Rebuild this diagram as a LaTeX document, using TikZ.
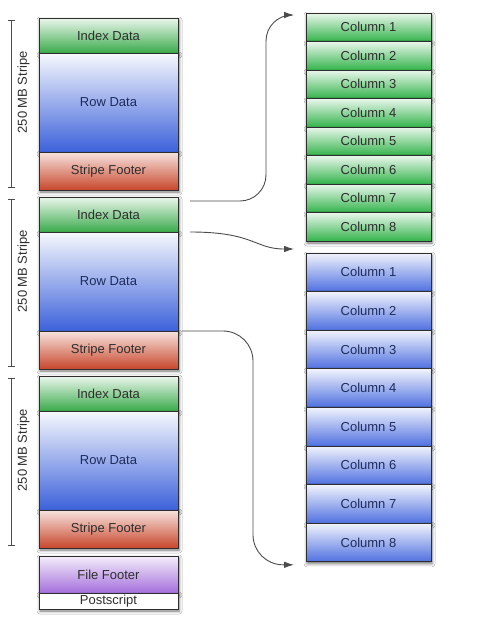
\documentclass[tikz,border=0pt]{standalone}
\usepackage{fontspec}
\setmainfont{Liberation Sans}
\usetikzlibrary{arrows.meta,shadows.blur}

\definecolor{idxgreen}{HTML}{3AAA4A}
\definecolor{rowblue}{HTML}{3C61DA}
\definecolor{footred}{HTML}{C8472C}
\definecolor{filepurple}{HTML}{A46FDB}
\definecolor{colgreen}{HTML}{33B34B}
\definecolor{colblue}{HTML}{4F70E0}
\definecolor{inkgray}{HTML}{2E2E2E}
\definecolor{inkblue}{HTML}{1E2B5C}

\tikzset{
  part/.style={draw=inkgray, line width=0.8pt, inner sep=0pt, outer sep=0pt,
    font=\fontsize{13}{15}\selectfont, text=inkgray,
    blur shadow={shadow xshift=1pt, shadow yshift=-2pt, shadow blur radius=3pt, shadow opacity=55}},
  index/.style={part, minimum width=139pt, minimum height=35pt,
    top color=idxgreen!10!white, bottom color=idxgreen},
  rowdata/.style={part, minimum width=139pt, minimum height=99pt, text=inkblue,
    top color=rowblue!4!white, bottom color=rowblue},
  footer/.style={part, minimum width=139pt, minimum height=38pt,
    top color=footred!15!white, bottom color=footred},
  filefoot/.style={part, minimum width=139pt, minimum height=37pt,
    top color=filepurple!12!white, bottom color=filepurple},
  postscript/.style={part, minimum width=139pt, minimum height=16pt, fill=white},
  gcol/.style={part, minimum width=125pt, minimum height=28.5pt,
    top color=colgreen!10!white, bottom color=colgreen},
  bcol/.style={part, minimum width=125pt, minimum height=38.6pt, text=inkblue,
    top color=colblue!8!white, bottom color=colblue},
  bracket/.style={draw=black!70, line width=0.8pt, arrows={Bar[width=7pt]-Bar[width=7pt]}},
  stripelabel/.style={rotate=90, anchor=north, inner sep=6pt,
    font=\fontsize{13}{15}\selectfont, text=inkgray},
  link/.style={draw=black!70, line width=0.9pt, -{Latex[length=10pt,width=6.5pt]}}
}

\begin{document}
\begin{tikzpicture}[x=1pt, y=-1pt]
  \useasboundingbox (0,0) rectangle (488,622);
  \fill[white] (0,0) rectangle (488,622);

  % stripes
  \foreach \s/\y in {1/18, 2/197, 3/376} {
    \node[index] (I\s) at (108.5,\y+17.5) {Index Data};
    \node[rowdata] (R\s) at (108.5,\y+84.5) {Row Data};
    \node[footer] (F\s) at (108.5,\y+153) {Stripe Footer};
    \draw[bracket] ([xshift=-28pt,yshift=-2pt]I\s.north west)
      -- node[stripelabel, pos=0.43] (L\s) {250 MB Stripe}
      ([xshift=-28pt,yshift=2pt]F\s.south west);
  }
  \node[filefoot] (FF) at (108.5,574.5) {File Footer};
  \node[postscript] (PS) at (108.5,601) {Postscript};

  % columns
  \foreach \i in {1,...,8} {
    \node[gcol] (G\i) at (368.5,13+28.5*\i-14.25) {Column \i};
    \node[bcol] (B\i) at (368.5,253+38.6*\i-19.3) {Column \i};
  }

  \draw[link, rounded corners=26pt] ([xshift=12pt,yshift=-4pt]I2.north east)
    -| ([xshift=-40pt,yshift=-2pt]G1.north west) -- ([xshift=-12pt,yshift=-2pt]G1.north west);
  \draw[link] ([xshift=12pt]I2.south east) .. controls +(65,0) and +(-40,0)
    .. ([xshift=-12pt,yshift=4pt]B1.north west);
  \draw[link, rounded corners=30pt] ([xshift=4pt]R2.south east)
    -| ([xshift=-53pt,yshift=-3pt]B8.south west) -- ([xshift=-12pt,yshift=-3pt]B8.south west);
\end{tikzpicture}
\end{document}
